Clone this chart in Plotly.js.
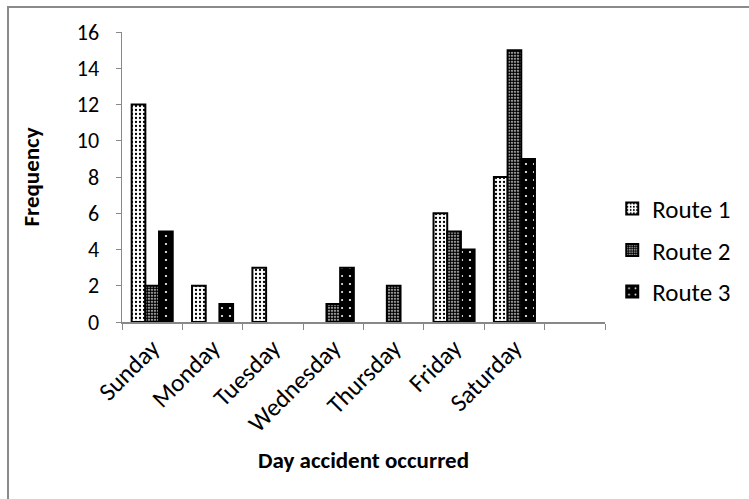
<!DOCTYPE html>
<html>
<head>
<meta charset="utf-8">
<script src="https://cdn.plot.ly/plotly-3.0.1.min.js"></script>
<style>html,body{margin:0;padding:0;background:#fff;}#chart{width:749px;height:499px;}</style>
</head>
<body>
<div id="chart"></div>
<script>
const days = ["Sunday", "Monday", "Tuesday", "Wednesday", "Thursday", "Friday", "Saturday"];
const route1 = [12, 2, 3, 0, 0, 6, 8];
const route2 = [2, 0, 0, 1, 2, 5, 15];
const route3 = [5, 1, 0, 3, 0, 4, 9];
const seriesNames = ["Route 1", "Route 2", "Route 3"];
const yTicks = [0, 2, 4, 6, 8, 10, 12, 14, 16];

// zero-height bars are not drawn in the reference (no outline)
const hideZero = arr => arr.map(v => (v === 0 ? null : v));

const FONT = "Carlito, Lato, 'Open Sans', sans-serif";
const line = {color: "#000", width: 2};
const traces = [
  {type: "bar", name: seriesNames[0], x: days, y: hideZero(route1), legendgroup: "a",
   marker: {color: "#fff", line: line, pattern: {shape: ".", bgcolor: "#fff", fgcolor: "#000", size: 4, solidity: 0.25}}},
  {type: "bar", name: seriesNames[1], x: days, y: hideZero(route2), legendgroup: "b",
   marker: {color: "#fff", line: line, pattern: {shape: ".", bgcolor: "#fff", fgcolor: "#000", size: 3, solidity: 0.75}}},
  {type: "bar", name: seriesNames[2], x: days, y: hideZero(route3), legendgroup: "c",
   marker: {color: "#000", line: line, pattern: {shape: ".", bgcolor: "#000", fgcolor: "#fff", size: 8, solidity: 0.06}}}
];

const layout = {
  width: 749, height: 499,
  margin: {l: 122, r: 144, t: 32, b: 177, autoexpand: false},
  paper_bgcolor: "#fff", plot_bgcolor: "#fff",
  font: {family: FONT, color: "#000", size: 22},
  barmode: "group", bargap: 0.32, bargroupgap: 0,
  showlegend: true,
  legend: {x: 1.015, xanchor: "left", y: 0.47, yanchor: "top", font: {size: 25, family: FONT}, tracegroupgap: 6, itemwidth: 30, bgcolor: "rgba(0,0,0,0)"},
  xaxis: {
    type: "category", categoryorder: "array", categoryarray: days.concat([" "]),
    range: [-0.5, 7.5], tickson: "boundaries", ticks: "outside", ticklen: 6, tickcolor: "#888",
    showline: true, linecolor: "#888", linewidth: 1.5, showgrid: false, zeroline: false,
    tickangle: -45, tickfont: {size: 25, family: FONT}, automargin: false,
    title: {text: "<b>Day accident occurred</b>", font: {size: 23, family: FONT}, standoff: 14}
  },
  yaxis: {
    range: [0, 16], tickvals: yTicks, ticktext: yTicks.map(String), ticks: "outside", ticklen: 5, tickcolor: "#888",
    showline: true, linecolor: "#888", linewidth: 1.5, showgrid: false, zeroline: false,
    tickfont: {size: 22, family: FONT}, ticklabelstandoff: 12, automargin: false,
    title: {text: "<b>Frequency</b>", font: {size: 23, family: FONT}, standoff: 30}
  },
  shapes: [{type: "rect", xref: "paper", yref: "paper", x0: -0.236, x1: 1.4, y0: -0.7, y1: 1.086, line: {color: "#8a8a8a", width: 2}}]
};
Plotly.newPlot("chart", traces, layout, {displayModeBar: false, staticPlot: true});
</script>
</body>
</html>
